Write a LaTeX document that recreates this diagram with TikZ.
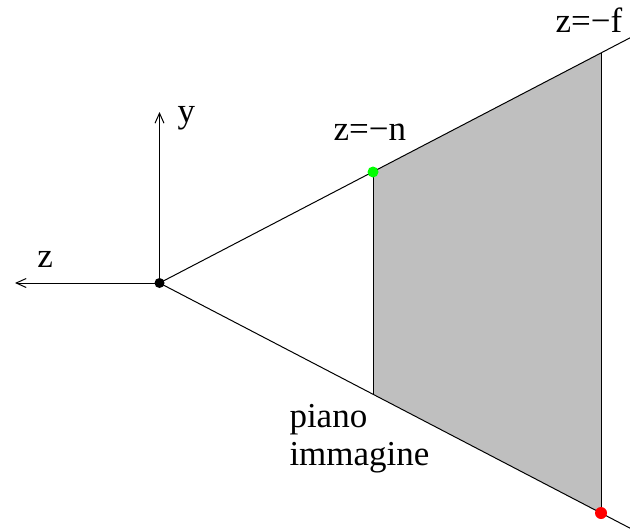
\documentclass[tikz,border=0pt]{standalone}
\usepackage{fontspec}
\setmainfont{Liberation Serif}
\usetikzlibrary{arrows.meta}
\begin{document}
\begin{tikzpicture}[x=1pt,y=-1pt,line width=1pt,
  lbl/.style={inner sep=0pt,anchor=base west,font=\fontsize{35}{38}\selectfont},
  axis/.style={-{Straight Barb[length=10pt,width=9pt,line width=1pt]}},
  dot/.style={circle,inner sep=0pt,minimum size=#1}]
\useasboundingbox (0,0) rectangle (630,530);
% points
\coordinate (O) at (159.5,283);
\coordinate (NT) at (373,172);
\coordinate (NB) at (373,393.7);
\coordinate (FT) at (601,53);
\coordinate (FB) at (601,513);
\coordinate (UE) at (632,36.8);
\coordinate (LE) at (632,529.2);
\coordinate (YE) at (159.5,112);
\coordinate (ZE) at (15,283);
% shaded region
\fill[fill={rgb,255:red,191;green,191;blue,191}] (NT) -- (FT) -- (FB) -- (NB) -- cycle;
\draw (NT) -- (NB);
\draw (FT) -- (FB);
% frustum lines
\draw (O) -- (UE);
\draw (O) -- (LE);
% axes
\draw[axis] (O) -- (YE);
\draw[axis] (O) -- (ZE);
% dots
\node[dot=10pt,fill=black] (o) at (O) {};
\node[dot=11pt,fill={rgb,255:red,0;green,255;blue,0}] (n) at (NT) {};
\node[dot=12pt,fill={rgb,255:red,255;green,0;blue,0}] (f) at (FB) {};
% labels
\node[lbl] (ly) at (177,122) {y};
\node[lbl] (lz) at (37,267) {z};
\node[lbl] (ln) at (333,140) {z=−n};
\node[lbl] (lf) at (555,32) {z=−f};
\node[lbl] (lp) at (289,427) {piano};
\node[lbl] (li) at (289,465) {immagine};
\end{tikzpicture}
\end{document}
